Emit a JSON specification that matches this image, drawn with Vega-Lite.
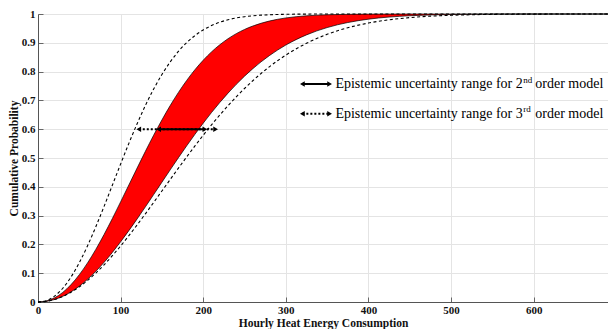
{
  "$schema": "https://vega.github.io/schema/vega-lite/v6.json",
  "width": 570,
  "height": 288,
  "autosize": "none",
  "padding": {"left": 38, "top": 14, "right": 0, "bottom": 27},
  "background": "white",
  "config": {
    "font": "Liberation Serif",
    "view": {"stroke": "#9a9a9a", "strokeWidth": 1},
    "axis": {
      "labelFont": "Liberation Serif", "titleFont": "Liberation Serif", "labelFontWeight": "bold", "titleFontWeight": "bold",
      "labelFontSize": 11, "titleFontSize": 11.5, "labelColor": "#111", "titleColor": "#111",
      "domainColor": "#555", "tickColor": "#666", "gridColor": "#e4e4e4", "grid": true, "ticks": true, "tickSize": -5,
      "labelOverlap": false, "labelFlush": false
    },
    "axisX": {"labelPadding": 7, "titlePadding": 2},
    "axisY": {"labelPadding": 8, "titlePadding": 2}
  },
  "datasets": {
    "curves": [
      {"x": 0, "a": 0, "b": 0, "c": 0, "d": 0},
      {"x": 10, "a": 0.0034, "b": 0.0021, "c": 0.0046, "d": 0.0022},
      {"x": 20, "a": 0.0144, "b": 0.0086, "c": 0.0203, "d": 0.0086},
      {"x": 30, "a": 0.0334, "b": 0.0197, "c": 0.0478, "d": 0.0193},
      {"x": 40, "a": 0.0604, "b": 0.0352, "c": 0.0869, "d": 0.034},
      {"x": 50, "a": 0.0948, "b": 0.055, "c": 0.1366, "d": 0.0526},
      {"x": 60, "a": 0.1358, "b": 0.0789, "c": 0.1954, "d": 0.0749},
      {"x": 70, "a": 0.1827, "b": 0.1066, "c": 0.2613, "d": 0.1006},
      {"x": 80, "a": 0.2344, "b": 0.1377, "c": 0.3321, "d": 0.1293},
      {"x": 90, "a": 0.2897, "b": 0.172, "c": 0.4055, "d": 0.1607},
      {"x": 100, "a": 0.3475, "b": 0.2089, "c": 0.4791, "d": 0.1945},
      {"x": 110, "a": 0.4063, "b": 0.2478, "c": 0.5509, "d": 0.2303},
      {"x": 120, "a": 0.4652, "b": 0.2885, "c": 0.619, "d": 0.2677},
      {"x": 130, "a": 0.5231, "b": 0.3303, "c": 0.6822, "d": 0.3062},
      {"x": 140, "a": 0.579, "b": 0.373, "c": 0.7393, "d": 0.3456},
      {"x": 150, "a": 0.6321, "b": 0.416, "c": 0.7897, "d": 0.3854},
      {"x": 160, "a": 0.6819, "b": 0.4588, "c": 0.8333, "d": 0.4252},
      {"x": 170, "a": 0.7277, "b": 0.501, "c": 0.8701, "d": 0.4649},
      {"x": 180, "a": 0.7693, "b": 0.5423, "c": 0.9005, "d": 0.5039},
      {"x": 190, "a": 0.8066, "b": 0.5824, "c": 0.9252, "d": 0.542},
      {"x": 200, "a": 0.8395, "b": 0.6209, "c": 0.9447, "d": 0.5791},
      {"x": 210, "a": 0.8683, "b": 0.6577, "c": 0.9598, "d": 0.6148},
      {"x": 220, "a": 0.893, "b": 0.6925, "c": 0.9714, "d": 0.649},
      {"x": 230, "a": 0.9141, "b": 0.7252, "c": 0.9799, "d": 0.6816},
      {"x": 240, "a": 0.9317, "b": 0.7557, "c": 0.9862, "d": 0.7124},
      {"x": 250, "a": 0.9463, "b": 0.7841, "c": 0.9907, "d": 0.7413},
      {"x": 260, "a": 0.9582, "b": 0.8101, "c": 0.9938, "d": 0.7683},
      {"x": 270, "a": 0.9678, "b": 0.8338, "c": 0.996, "d": 0.7934},
      {"x": 280, "a": 0.9755, "b": 0.8554, "c": 0.9974, "d": 0.8166},
      {"x": 290, "a": 0.9816, "b": 0.8748, "c": 0.9984, "d": 0.8379},
      {"x": 300, "a": 0.9863, "b": 0.8922, "c": 0.999, "d": 0.8573},
      {"x": 325, "a": 0.9937, "b": 0.9275, "c": 0.9997, "d": 0.8982},
      {"x": 350, "a": 0.9973, "b": 0.9529, "c": 0.9999, "d": 0.9294},
      {"x": 375, "a": 0.9989, "b": 0.9704, "c": 1, "d": 0.9523},
      {"x": 400, "a": 0.9996, "b": 0.982, "c": 1, "d": 0.9686},
      {"x": 450, "a": 1, "b": 0.994, "c": 1, "d": 0.9875},
      {"x": 500, "a": 1, "b": 0.9982, "c": 1, "d": 0.9955},
      {"x": 550, "a": 1, "b": 0.9996, "c": 1, "d": 0.9986},
      {"x": 600, "a": 1, "b": 1, "c": 1, "d": 0.9996},
      {"x": 690, "a": 1, "b": 1, "c": 1, "d": 1}
    ],
    "arrows": [
      {"model": "3rd", "x": 122, "x2": 215, "y": 0.6},
      {"model": "2nd", "x": 146, "x2": 202, "y": 0.6},
      {"model": "2nd", "x": 320, "x2": 353, "y": 0.757},
      {"model": "3rd", "x": 320, "x2": 353, "y": 0.654}
    ],
    "heads": [
      {"x": 122, "y": 0.6, "dir": "left"},
      {"x": 146, "y": 0.6, "dir": "left"},
      {"x": 202, "y": 0.6, "dir": "right"},
      {"x": 215, "y": 0.6, "dir": "right"},
      {"x": 320, "y": 0.757, "dir": "left"},
      {"x": 353, "y": 0.757, "dir": "right"},
      {"x": 320, "y": 0.654, "dir": "left"},
      {"x": 353, "y": 0.654, "dir": "right"}
    ],
    "labels": [
      {"x": 360, "y": 0.757, "t": "Epistemic uncertainty range for 2"},
      {"x": 602, "y": 0.757, "t": "order model"},
      {"x": 360, "y": 0.654, "t": "Epistemic uncertainty range for 3"},
      {"x": 602, "y": 0.654, "t": "order model"}
    ],
    "sups": [
      {"x": 587.5, "y": 0.772, "t": "nd"},
      {"x": 587.5, "y": 0.669, "t": "rd"}
    ]
  },
  "layer": [
    {
      "data": {"name": "curves"},
      "mark": {"type": "area", "color": "#ff0000", "interpolate": "monotone"},
      "encoding": {
        "x": {"field": "x", "type": "quantitative", "scale": {"domain": [0, 690], "nice": false},
          "axis": {"values": [0, 100, 200, 300, 400, 500, 600], "title": "Hourly Heat Energy Consumption"}},
        "y": {"field": "b", "type": "quantitative", "scale": {"domain": [0, 1], "nice": false},
          "axis": {"values": [0, 0.1, 0.2, 0.3, 0.4, 0.5, 0.6, 0.7, 0.8, 0.9, 1], "format": ".1~f", "title": "Cumulative Probability"}},
        "y2": {"field": "a"}
      }
    },
    {
      "data": {"name": "curves"},
      "mark": {"type": "line", "color": "#000", "strokeWidth": 0.7, "interpolate": "monotone"},
      "encoding": {
        "x": {"field": "x", "type": "quantitative", "axis": {"values": [0, 100, 200, 300, 400, 500, 600], "title": "Hourly Heat Energy Consumption"}},
        "y": {"field": "a", "type": "quantitative", "axis": {"values": [0, 0.1, 0.2, 0.3, 0.4, 0.5, 0.6, 0.7, 0.8, 0.9, 1], "format": ".1~f", "title": "Cumulative Probability"}}
      }
    },
    {
      "data": {"name": "curves"},
      "mark": {"type": "line", "color": "#000", "strokeWidth": 0.7, "interpolate": "monotone"},
      "encoding": {
        "x": {"field": "x", "type": "quantitative", "axis": {"values": [0, 100, 200, 300, 400, 500, 600], "title": "Hourly Heat Energy Consumption"}},
        "y": {"field": "b", "type": "quantitative", "axis": {"values": [0, 0.1, 0.2, 0.3, 0.4, 0.5, 0.6, 0.7, 0.8, 0.9, 1], "format": ".1~f", "title": "Cumulative Probability"}}
      }
    },
    {
      "data": {"name": "curves"},
      "mark": {"type": "line", "color": "#000", "strokeWidth": 1.1, "strokeDash": [3, 2.5], "interpolate": "monotone"},
      "encoding": {
        "x": {"field": "x", "type": "quantitative", "axis": {"values": [0, 100, 200, 300, 400, 500, 600], "title": "Hourly Heat Energy Consumption"}},
        "y": {"field": "c", "type": "quantitative", "axis": {"values": [0, 0.1, 0.2, 0.3, 0.4, 0.5, 0.6, 0.7, 0.8, 0.9, 1], "format": ".1~f", "title": "Cumulative Probability"}}
      }
    },
    {
      "data": {"name": "curves"},
      "mark": {"type": "line", "color": "#000", "strokeWidth": 1.1, "strokeDash": [3, 2.5], "interpolate": "monotone"},
      "encoding": {
        "x": {"field": "x", "type": "quantitative", "axis": {"values": [0, 100, 200, 300, 400, 500, 600], "title": "Hourly Heat Energy Consumption"}},
        "y": {"field": "d", "type": "quantitative", "axis": {"values": [0, 0.1, 0.2, 0.3, 0.4, 0.5, 0.6, 0.7, 0.8, 0.9, 1], "format": ".1~f", "title": "Cumulative Probability"}}
      }
    },
    {
      "data": {"name": "arrows"},
      "transform": [{"filter": "datum.model == '3rd'"}],
      "mark": {"type": "rule", "color": "#000", "strokeWidth": 2, "strokeDash": [2, 2]},
      "encoding": {
        "x": {"field": "x", "type": "quantitative", "axis": {"values": [0, 100, 200, 300, 400, 500, 600], "title": "Hourly Heat Energy Consumption"}},
        "x2": {"field": "x2"},
        "y": {"field": "y", "type": "quantitative", "axis": {"values": [0, 0.1, 0.2, 0.3, 0.4, 0.5, 0.6, 0.7, 0.8, 0.9, 1], "format": ".1~f", "title": "Cumulative Probability"}}
      }
    },
    {
      "data": {"name": "arrows"},
      "transform": [{"filter": "datum.model == '2nd'"}],
      "mark": {"type": "rule", "color": "#000", "strokeWidth": 2},
      "encoding": {
        "x": {"field": "x", "type": "quantitative", "axis": {"values": [0, 100, 200, 300, 400, 500, 600], "title": "Hourly Heat Energy Consumption"}},
        "x2": {"field": "x2"},
        "y": {"field": "y", "type": "quantitative", "axis": {"values": [0, 0.1, 0.2, 0.3, 0.4, 0.5, 0.6, 0.7, 0.8, 0.9, 1], "format": ".1~f", "title": "Cumulative Probability"}}
      }
    },
    {
      "data": {"name": "heads"},
      "mark": {"type": "point", "filled": true, "color": "#000", "size": 30, "opacity": 1},
      "encoding": {
        "x": {"field": "x", "type": "quantitative", "axis": {"values": [0, 100, 200, 300, 400, 500, 600], "title": "Hourly Heat Energy Consumption"}},
        "y": {"field": "y", "type": "quantitative", "axis": {"values": [0, 0.1, 0.2, 0.3, 0.4, 0.5, 0.6, 0.7, 0.8, 0.9, 1], "format": ".1~f", "title": "Cumulative Probability"}},
        "shape": {"field": "dir", "type": "nominal", "scale": {"domain": ["left", "right"], "range": ["triangle-left", "triangle-right"]}, "legend": null}
      }
    },
    {
      "data": {"name": "labels"},
      "mark": {"type": "text", "align": "left", "baseline": "middle", "font": "Liberation Serif", "fontSize": 14, "color": "#000"},
      "encoding": {
        "x": {"field": "x", "type": "quantitative", "axis": {"values": [0, 100, 200, 300, 400, 500, 600], "title": "Hourly Heat Energy Consumption"}},
        "y": {"field": "y", "type": "quantitative", "axis": {"values": [0, 0.1, 0.2, 0.3, 0.4, 0.5, 0.6, 0.7, 0.8, 0.9, 1], "format": ".1~f", "title": "Cumulative Probability"}},
        "text": {"field": "t"}
      }
    },
    {
      "data": {"name": "sups"},
      "mark": {"type": "text", "align": "left", "baseline": "middle", "font": "Liberation Serif", "fontSize": 9, "color": "#000"},
      "encoding": {
        "x": {"field": "x", "type": "quantitative", "axis": {"values": [0, 100, 200, 300, 400, 500, 600], "title": "Hourly Heat Energy Consumption"}},
        "y": {"field": "y", "type": "quantitative", "axis": {"values": [0, 0.1, 0.2, 0.3, 0.4, 0.5, 0.6, 0.7, 0.8, 0.9, 1], "format": ".1~f", "title": "Cumulative Probability"}},
        "text": {"field": "t"}
      }
    }
  ]
}
